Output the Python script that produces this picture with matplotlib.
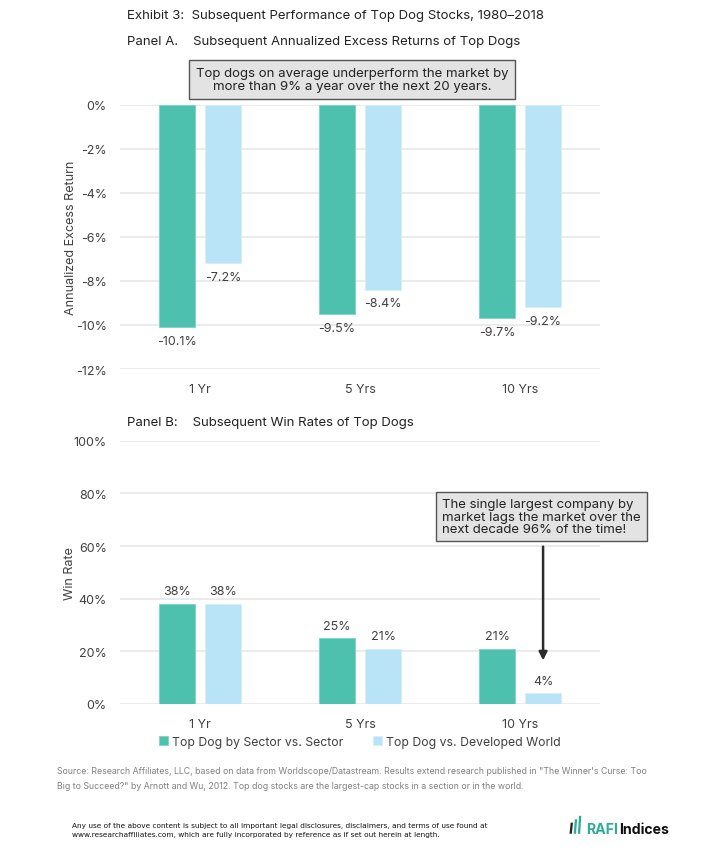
import numpy as np
import matplotlib.pyplot as plt
from matplotlib.patches import Polygon

plt.rcParams['font.family'] = ['Inter', 'DejaVu Sans']

# data
categories = ['1 Yr', '5 Yrs', '10 Yrs']
series_names = ['Top Dog by Sector vs. Sector', 'Top Dog vs. Developed World']
excess_sector = [-10.1, -9.5, -9.7]
excess_world = [-7.2, -8.4, -9.2]
win_sector = [38, 25, 21]
win_world = [38, 21, 4]
excess_ticks = [0, -2, -4, -6, -8, -10, -12]
win_ticks = [0, 20, 40, 60, 80, 100]

GREEN = '#4DC1AD'
BLUE = '#B9E4F8'
TXT = '#404040'
GRID = '#E8E8E8'

fig = plt.figure(figsize=(7.2, 8.54), dpi=100)

x = np.arange(len(categories))
w = 0.225
off = 0.144


def style_ax(ax, ticks, ylabel, lab_x):
    for s in ax.spines.values():
        s.set_visible(False)
    ax.set_yticks(ticks)
    ax.set_yticklabels([f'{t}%' for t in ticks], color=TXT, fontsize=9)
    ax.tick_params(axis='y', length=0, pad=9.5)
    ax.tick_params(axis='x', length=0, pad=10)
    ax.set_xticks(x)
    ax.set_xticklabels(categories, color=TXT, fontsize=9)
    ax.grid(axis='y', color=GRID, linewidth=1.2)
    ax.set_axisbelow(True)
    ax.set_xlim(-0.5, 2.5)
    ax.set_ylabel(ylabel, color=TXT, fontsize=9)
    ax.yaxis.set_label_coords(lab_x, 0.5)


# Panel A
axA = fig.add_axes([0.1667, 0.5667, 0.6667, 0.3096])
axA.bar(x - off, excess_sector, w, color=GREEN, edgecolor='#7FD3C4', linewidth=0.6)
axA.bar(x + off, excess_world, w, color=BLUE, edgecolor='#D5EEFA', linewidth=0.6)
axA.set_ylim(-12, 0)
style_ax(axA, excess_ticks, 'Annualized Excess Return', -0.09)
for xi, v in zip(x - off, excess_sector):
    axA.text(xi, v - 0.35, f'{v:.1f}%', ha='center', va='top', fontsize=9, color=TXT)
for xi, v in zip(x + off, excess_world):
    axA.text(xi, v - 0.35, f'{v:.1f}%', ha='center', va='top', fontsize=9, color=TXT)

# Panel B
axB = fig.add_axes([0.1667, 0.1745, 0.6667, 0.3083])
axB.bar(x - off, win_sector, w, color=GREEN, edgecolor='#7FD3C4', linewidth=0.6,
        label=series_names[0])
axB.bar(x + off, win_world, w, color=BLUE, edgecolor='#D5EEFA', linewidth=0.6,
        label=series_names[1])
axB.set_ylim(0, 100)
style_ax(axB, win_ticks, 'Win Rate', -0.092)
for xi, v in zip(x - off, win_sector):
    axB.text(xi, v + 2.5, f'{v}%', ha='center', va='bottom', fontsize=9, color=TXT)
for xi, v in zip(x + off, win_world):
    axB.text(xi, v + 2.5, f'{v}%', ha='center', va='bottom', fontsize=9, color=TXT)

# arrow from callout to the 4% bar
axB.annotate('', xy=(2 + off, win_world[2] + 11.5), xytext=(2 + off, 60.8),
             arrowprops=dict(arrowstyle='-|>', color='#2B2B2B', lw=1.8,
                             mutation_scale=12))

leg = axB.legend(loc='upper center', bbox_to_anchor=(0.5, -0.08), ncol=2,
                 frameon=False, fontsize=8.8, handlelength=0.7, handleheight=0.7,
                 handletextpad=0.4, columnspacing=2.4)
for t in leg.get_texts():
    t.set_color(TXT)

# titles
fig.text(0.176, 0.981, 'Exhibit 3:  Subsequent Performance of Top Dog Stocks, 1980\u20132018',
         fontsize=9.5, color='#222222', va='center')
fig.text(0.176, 0.951, 'Panel A.    Subsequent Annualized Excess Returns of Top Dogs',
         fontsize=9.5, color='#222222', va='center')
fig.text(0.176, 0.505, 'Panel B:    Subsequent Win Rates of Top Dogs',
         fontsize=9.5, color='#222222', va='center')

# callouts
fig.text(0.489, 0.906, 'Top dogs on average underperform the market by\nmore than 9% a year over the next 20 years.',
         ha='center', va='center', fontsize=9.5, color='#222222', linespacing=1.15,
         bbox=dict(boxstyle='square,pad=0.5', facecolor='#E3E3E3', edgecolor='#555555', linewidth=1))
fig.text(0.614, 0.394, 'The single largest company by\nmarket lags the market over the\nnext decade 96% of the time!',
         ha='left', va='center', fontsize=9.5, color='#222222', linespacing=1.1,
         bbox=dict(boxstyle='square,pad=0.45', facecolor='#E3E3E3', edgecolor='#555555', linewidth=1))

# source
fig.text(0.079, 0.0878,
         'Source: Research Affiliates, LLC, based on data from Worldscope/Datastream. Results extend research published in "The Winner\'s Curse: Too\n'
         'Big to Succeed?" by Arnott and Wu, 2012. Top dog stocks are the largest-cap stocks in a section or in the world.',
         fontsize=6.3, color='#808080', va='center', linespacing=1.8)

# disclaimer
fig.text(0.1, 0.0275,
         'Any use of the above content is subject to all important legal disclosures, disclaimers, and terms of use found at\n'
         'www.researchaffiliates.com, which are fully incorporated by reference as if set out herein at length.',
         fontsize=5.3, color='#111111', va='center', linespacing=1.45,
         family=['Liberation Sans Narrow', 'DejaVu Sans'])

# logo
for i, hgt in enumerate([0.013, 0.017, 0.021]):
    x0 = 0.791 + i * 0.0058
    fig.patches.append(Polygon([[x0, 0.0225], [x0 + 0.0032, 0.0225],
                                [x0 + 0.0048, 0.0225 + hgt], [x0 + 0.0016, 0.0225 + hgt]],
                               closed=True, transform=fig.transFigure,
                               facecolor='#222222' if i == 0 else '#2BAE97'))
fig.text(0.814, 0.0285, 'RAFI', fontsize=10.2, fontweight='bold', color='#2BAE97', va='center')
fig.text(0.86, 0.0285, 'Indices', fontsize=10.2, fontweight='bold', color='#111111', va='center')

fig.savefig('out.png', dpi=100, facecolor='white')
